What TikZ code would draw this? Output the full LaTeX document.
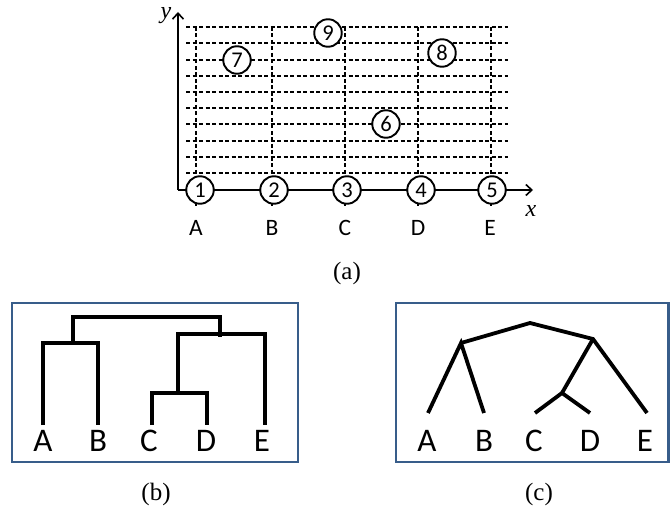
\documentclass[tikz,border=0pt]{standalone}
\usepackage{fontspec}
\setmainfont{Liberation Serif}
\newfontfamily\carl{Carlito}
\usetikzlibrary{arrows.meta}
\definecolor{panelblue}{RGB}{56,93,138}
\begin{document}
\begin{tikzpicture}[x=1pt,y=-1pt,
  gridline/.style={dash pattern=on 4pt off 2.5pt, line width=1.7pt},
  axisline/.style={line width=1.6pt, -{Straight Barb[length=6pt,width=11pt,line width=1.6pt]}},
  pt/.style={circle, draw, line width=1.9pt, fill=white, minimum size=27.5pt, inner sep=0pt, font=\carl\fontsize{22.5}{22.5}\selectfont},
  lab/.style={anchor=base, inner sep=0pt, font=\carl\fontsize{23.5}{23.5}\selectfont},
  biglab/.style={anchor=base, inner sep=0pt, font=\carl\fontsize{33}{33}\selectfont},
  capt/.style={anchor=base, inner sep=0pt, font=\fontsize{25}{25}\selectfont},
  axlab/.style={anchor=base, inner sep=0pt, font=\fontsize{24}{24}\selectfont\itshape},
  tree/.style={line width=3.8pt},
  panel/.style={draw=panelblue, line width=2.6pt}
]
\useasboundingbox (0,0) rectangle (670,513);

% ---------- (a) grid ----------
\foreach \yy in {27,43,60,76,92,108,124,141,157,173}
  \draw[gridline] (186,\yy) -- (508,\yy);
\foreach \xx in {196,272,345,418,491}
  \draw[gridline] (\xx,27) -- (\xx,206);

% axes
\coordinate (o) at (178,190);
\coordinate (ytip) at (178,12);
\coordinate (xtip) at (533,190);
\draw[axisline] (o) -- (ytip);
\draw[axisline] (o) -- (xtip);
\node[axlab] (ylab) at (166,19) {y};
\node[axlab] (xlab) at (531,217) {x};

% points
\node[pt] (p1) at (200,190) {1};
\node[pt] (p2) at (274,190) {2};
\node[pt] (p3) at (347,190) {3};
\node[pt] (p4) at (421,190) {4};
\node[pt] (p5) at (492,190) {5};
\node[pt] (p6) at (386,124) {6};
\node[pt] (p7) at (237,60) {7};
\node[pt] (p8) at (442,53) {8};
\node[pt] (p9) at (328,33) {9};

% labels
\node[lab] (la) at (196,236) {A};
\node[lab] (lb) at (272,236) {B};
\node[lab] (lc) at (345,236) {C};
\node[lab] (ld) at (418,236) {D};
\node[lab] (le) at (490,236) {E};
\node[capt] (capa) at (347,280) {(a)};

% ---------- (b) ----------
\draw[panel] (12,303) rectangle (298,462);
\draw[tree] (43,425) -- (43,343) -- (98,343) -- (98,425);
\draw[tree] (152,425) -- (152,393) -- (207,393) -- (207,425);
\draw[tree] (178,393) -- (178,334) -- (265,334) -- (265,425);
\draw[tree] (73,343) -- (73,317) -- (220,317) -- (220,337);
\node[biglab] (ba) at (43,451) {A};
\node[biglab] (bb) at (98,451) {B};
\node[biglab] (bc) at (149,451) {C};
\node[biglab] (bd) at (206,451) {D};
\node[biglab] (be) at (262,451) {E};
\node[capt] (capb) at (156,500) {(b)};

% ---------- (c) ----------
\draw[panel] (396,303) rectangle (668.7,462);
\coordinate (root) at (530,323);
\coordinate (nab) at (461,343);
\coordinate (ncde) at (593,339);
\coordinate (ncd) at (562,393);
\coordinate (la2) at (428,413);
\coordinate (lb2) at (484,413);
\coordinate (lc2) at (535,413);
\coordinate (ld2) at (590,413);
\coordinate (le2) at (647,413);
\draw[tree] (la2) -- (nab) -- (lb2);
\draw[tree] (nab) -- (root) -- (ncde) -- (le2);
\draw[tree] (ncde) -- (ncd);
\draw[tree] (lc2) -- (ncd) -- (ld2);
\node[biglab] (ca) at (427,451) {A};
\node[biglab] (cb) at (484,451) {B};
\node[biglab] (cc) at (534,451) {C};
\node[biglab] (cd) at (590,451) {D};
\node[biglab] (ce) at (645,451) {E};
\node[capt] (capc) at (539,500) {(c)};
\end{tikzpicture}
\end{document}
